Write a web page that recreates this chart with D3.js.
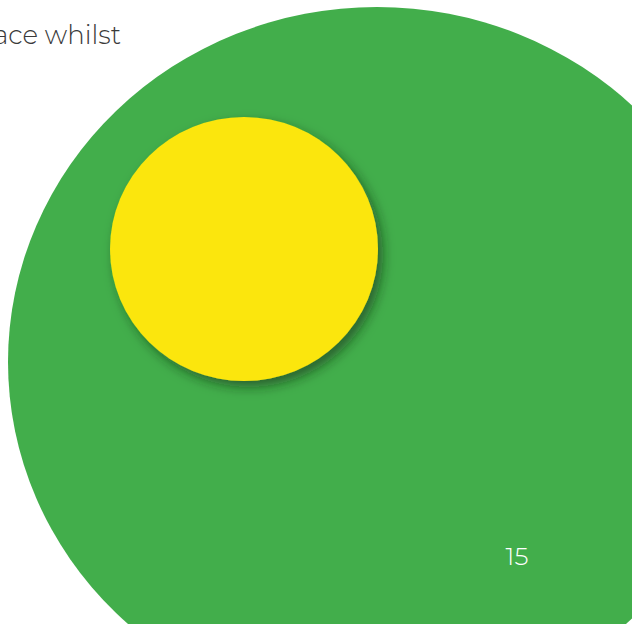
<!DOCTYPE html>
<html>
<head>
<meta charset="utf-8">
<script src="https://cdn.jsdelivr.net/npm/d3@7"></script>
<style>
  html, body { margin: 0; padding: 0; background: #fff; overflow: hidden; }
</style>
</head>
<body>
<div id="wrapper"></div>
<script>
// data: two bubbles, page units
const bubbleNames = ["green", "yellow"]
const bubbleX = [377, 244]
const bubbleY = [362, 249]
const bubbleRx = [369, 134]
const bubbleRy = [355, 132]
const bubbleColors = ["#42ae4b", "#fbe60b"]

const captionText = "ace whilst"
const pageNumber = "15"

function drawBubbles() {
  const dimensions = { width: 632, height: 624 }

  const data = bubbleNames.map((name, i) => ({
    name,
    x: bubbleX[i],
    y: bubbleY[i],
    rx: bubbleRx[i],
    ry: bubbleRy[i],
    color: bubbleColors[i],
  }))

  const wrapper = d3.select("#wrapper")
    .append("svg")
    .attr("width", dimensions.width)
    .attr("height", dimensions.height)
    .style("display", "block")

  const defs = wrapper.append("defs")
  const shadow = defs.append("filter")
    .attr("id", "shadow")
    .attr("x", "-20%").attr("y", "-20%")
    .attr("width", "140%").attr("height", "140%")
  shadow.append("feDropShadow")
    .attr("dx", 5)
    .attr("dy", 6)
    .attr("stdDeviation", 6)
    .attr("flood-color", "#0d2a10")
    .attr("flood-opacity", 0.55)

  // scales (page coordinates)
  const xScale = d3.scaleLinear()
    .domain([0, dimensions.width])
    .range([0, dimensions.width])
  const yScale = d3.scaleLinear()
    .domain([0, dimensions.height])
    .range([0, dimensions.height])
  const rScale = d3.scaleLinear()
    .domain([0, dimensions.width])
    .range([0, dimensions.width])

  wrapper.append("text")
    .attr("x", 121)
    .attr("y", 44)
    .attr("text-anchor", "end")
    .attr("fill", "#3a3a3a")
    .style("font-family", "Montserrat, Lato, 'Open Sans', sans-serif")
    .style("font-weight", 300)
    .style("font-size", "26px")
    .text(captionText)

  wrapper.selectAll("ellipse")
    .data(data)
    .enter().append("ellipse")
      .attr("cx", d => xScale(d.x))
      .attr("cy", d => yScale(d.y))
      .attr("rx", d => rScale(d.rx))
      .attr("ry", d => rScale(d.ry))
      .attr("fill", d => d.color)
      .attr("filter", d => d.name == "yellow" ? "url(#shadow)" : null)

  wrapper.append("text")
    .attr("x", 517)
    .attr("y", 565)
    .attr("text-anchor", "middle")
    .attr("fill", "#ffffff")
    .style("font-family", "Montserrat, Lato, 'Open Sans', sans-serif")
    .style("font-weight", 300)
    .style("font-size", "25px")
    .text(pageNumber)
}

drawBubbles()
</script>
</body>
</html>
